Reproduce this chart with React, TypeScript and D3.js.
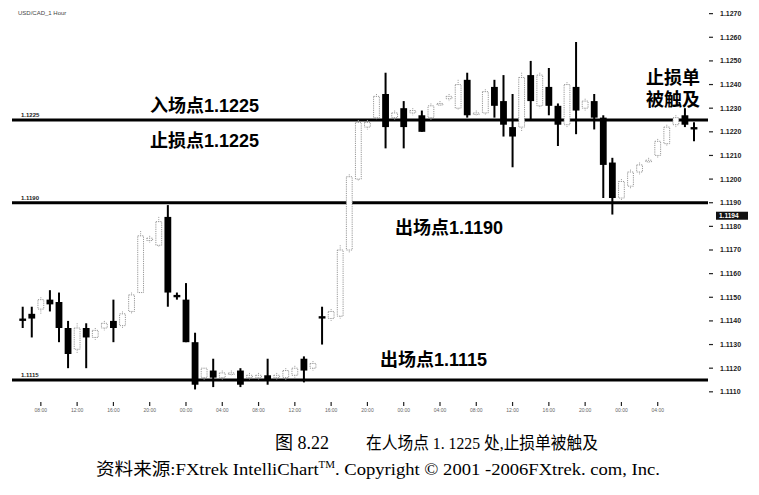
import React, { useEffect } from "react";
import * as d3 from "d3";

// hourly candles
const opens = [
  1.1141, 1.1143, 1.1145, 1.1149, 1.1148, 1.1137, 1.1128, 1.1137, 1.1133, 1.1137,
  1.114, 1.1138, 1.1144, 1.1152, 1.1174, 1.1172, 1.1184, 1.1151, 1.1149, 1.1131,
  1.1116, 1.1119, 1.1116, 1.1118, 1.1119, 1.1116, 1.1116, 1.1117, 1.1116, 1.1116,
  1.1117, 1.1124, 1.112, 1.1142, 1.1141, 1.1142, 1.117, 1.12, 1.1222, 1.1226,
  1.1236, 1.1226, 1.123, 1.1228, 1.1227, 1.1226, 1.1232, 1.1234, 1.123, 1.1242,
  1.1228, 1.1228, 1.1239, 1.1233, 1.1222, 1.1222, 1.1244, 1.1231, 1.1239, 1.1231,
  1.1223, 1.1239, 1.123, 1.1233, 1.1226, 1.1207, 1.1192, 1.1197, 1.1203, 1.1208,
  1.121, 1.1215, 1.1223, 1.1227, 1.1222,
];
const highs = [
  1.1146, 1.1146, 1.115, 1.1153, 1.1152, 1.114, 1.1139, 1.1139, 1.1137, 1.114,
  1.1149, 1.1144, 1.1152, 1.1178, 1.1176, 1.1184, 1.1189, 1.1152, 1.1156, 1.1135,
  1.112, 1.1124, 1.1119, 1.1119, 1.112, 1.1118, 1.1118, 1.1124, 1.1118, 1.112,
  1.1121, 1.1125, 1.1123, 1.1146, 1.1145, 1.1172, 1.1202, 1.1225, 1.1225, 1.1236,
  1.1245, 1.1229, 1.1233, 1.123, 1.1229, 1.1232, 1.1233, 1.1236, 1.1242, 1.1245,
  1.1229, 1.1238, 1.1242, 1.1244, 1.1236, 1.1245, 1.125, 1.1245, 1.1247, 1.1232,
  1.1241, 1.1258, 1.1234, 1.1236, 1.1227, 1.1209, 1.12, 1.1204, 1.1207, 1.1209,
  1.1217, 1.1223, 1.1227, 1.123, 1.1224,
];
const lows = [
  1.1137, 1.1133, 1.1143, 1.1144, 1.1131, 1.112, 1.1126, 1.112, 1.1132, 1.1136,
  1.1131, 1.1137, 1.1143, 1.1152, 1.1173, 1.1171, 1.1146, 1.1149, 1.1131, 1.1111,
  1.1115, 1.1112, 1.1115, 1.1117, 1.1112, 1.1115, 1.1115, 1.1113, 1.1115, 1.1115,
  1.1116, 1.1114, 1.1119, 1.113, 1.114, 1.1141, 1.1169, 1.1199, 1.1221, 1.1225,
  1.1213, 1.1225, 1.1213, 1.1227, 1.122, 1.1225, 1.1231, 1.1233, 1.1229, 1.1226,
  1.1227, 1.1227, 1.1226, 1.1218, 1.1205, 1.122, 1.1225, 1.123, 1.1227, 1.1214,
  1.1222, 1.1219, 1.1229, 1.1221, 1.1192, 1.1185, 1.1191, 1.1196, 1.1202, 1.1207,
  1.1209, 1.1214, 1.1222, 1.1222, 1.1216,
];
const closes = [
  1.114, 1.1141, 1.1149, 1.1147, 1.1137, 1.1126, 1.1137, 1.1133, 1.1136, 1.1139,
  1.1137, 1.1143, 1.1151, 1.1176, 1.1175, 1.1182, 1.1152, 1.115, 1.1131, 1.1113,
  1.112, 1.1116, 1.1118, 1.1118, 1.1113, 1.1117, 1.1117, 1.1115, 1.1117, 1.1119,
  1.112, 1.1119, 1.1122, 1.1141, 1.1144, 1.117, 1.1201, 1.1224, 1.1224, 1.1235,
  1.1222, 1.1228, 1.1222, 1.1229, 1.122, 1.1231, 1.1232, 1.1235, 1.124, 1.1227,
  1.1228, 1.1237, 1.1231, 1.1223, 1.1218, 1.1243, 1.1233, 1.1244, 1.1231, 1.1223,
  1.124, 1.1229, 1.1233, 1.1226, 1.1206, 1.1192, 1.1199, 1.1203, 1.1206, 1.1208,
  1.1216, 1.1222, 1.1226, 1.1223, 1.1221,
];

const timeLabels = [
  "08:00", "12:00", "16:00", "20:00", "00:00", "04:00", "08:00", "12:00", "16:00",
  "20:00", "00:00", "04:00", "08:00", "12:00", "16:00", "20:00", "00:00", "04:00",
];
const priceTicks = d3.range(0, 17).map((i) => +(1.111 + i * 0.001).toFixed(4));

// horizontal levels
const entryLevel = 1.1225;
const exit1 = 1.119;
const exit2 = 1.1115;
const lastPrice = "1.1194";

const W = 759;
const H = 495;

const x = d3.scaleLinear().domain([0, opens.length - 1]).range([22.7, 694]);
const y = d3.scaleLinear().domain([exit2, entryLevel]).range([380, 120]);

const bodyW = 6.8;
const labelFont = "'Liberation Sans', 'Noto Sans CJK SC', sans-serif";
const serifFont = "'Liberation Serif', 'Noto Sans CJK SC', serif";

export default function App() {
  useEffect(() => {
    document.body.style.margin = "0";
  }, []);

  const candles = opens.map((o, i) => ({
    o,
    h: highs[i],
    l: lows[i],
    c: closes[i],
    up: closes[i] >= o,
  }));

  return (
    <svg width={W} height={H} style={{ display: "block", background: "#fff" }}>
      <rect width={W} height={H} fill="#fff" />

      <text x={18} y={15} fontSize={6} fontFamily={labelFont} fill="#444">
        USD/CAD_1 Hour
      </text>

      {/* right price axis */}
      {priceTicks.map((p) => (
        <g key={p} transform={`translate(0,${y(p)})`}>
          <line x1={709} x2={713} stroke="#222" strokeWidth={1.2} />
          <text
            x={720}
            dy="0.35em"
            fontSize={7}
            fontWeight="bold"
            fontFamily={labelFont}
            fill="#222"
          >
            {p.toFixed(4)}
          </text>
        </g>
      ))}
      <g transform={`translate(716,${y(exit1) + 13})`}>
        <rect x={0} y={-4} width={32} height={8} fill="#111" />
        <text x={3} dy="0.35em" fontSize={6.5} fontWeight="bold" fontFamily={labelFont} fill="#fff">
          {lastPrice}
        </text>
      </g>

      {/* bottom time axis */}
      {timeLabels.map((t, k) => {
        const xi = x(2 + k * 4);
        return (
          <g key={k} transform={`translate(${xi},0)`}>
            <line y1={402} y2={406} stroke="#222" strokeWidth={1.2} />
            <text y={412} textAnchor="middle" fontSize={5} fontFamily={labelFont} fill="#666">
              {t}
            </text>
          </g>
        );
      })}

      {/* level lines */}
      {[entryLevel, exit1, exit2].map((lv) => (
        <g key={lv}>
          <line x1={12} x2={708} y1={y(lv)} y2={y(lv)} stroke="#000" strokeWidth={3} />
          <text
            x={21}
            y={y(lv) - 3}
            fontSize={6}
            fontWeight="bold"
            fontFamily={labelFont}
            fill="#222"
          >
            {lv.toFixed(4)}
          </text>
        </g>
      ))}

      {/* candles */}
      {candles.map((d, i) => {
        const cx = x(i);
        const top = y(Math.max(d.o, d.c));
        const bot = y(Math.min(d.o, d.c));
        const bh = Math.max(bot - top, 1.6);
        if (d.up) {
          return (
            <g key={i}>
              <line
                x1={cx}
                x2={cx}
                y1={y(d.h)}
                y2={y(d.l)}
                stroke="#9a9a9a"
                strokeWidth={1}
                strokeDasharray="1 1.2"
              />
              <rect
                x={cx - bodyW / 2 + 0.5}
                y={top}
                width={bodyW - 1}
                height={bh}
                fill="#fff"
                stroke="#8c8c8c"
                strokeWidth={0.9}
                strokeDasharray="1.2 1"
              />
            </g>
          );
        }
        return (
          <g key={i}>
            <line x1={cx} x2={cx} y1={y(d.h)} y2={y(d.l)} stroke="#000" strokeWidth={2} />
            <rect x={cx - bodyW / 2} y={top} width={bodyW} height={bh} fill="#000" />
          </g>
        );
      })}

      {/* annotations */}
      <g fontFamily={labelFont} fontWeight="bold" fontSize={18} fill="#000">
        <text x={150} y={112}>入场点1.1225</text>
        <text x={150} y={147}>止损点1.1225</text>
        <text x={395} y={234}>出场点1.1190</text>
        <text x={380} y={366}>出场点1.1115</text>
        <text x={646} y={84}>止损单</text>
        <text x={646} y={106}>被触及</text>
      </g>

      {/* caption */}
      <g fontFamily={serifFont} fill="#000">
        <text x={275} y={449} fontSize={18}>
          图 8.22
        </text>
        <text x={366} y={449} fontSize={17} textLength={232} lengthAdjust="spacingAndGlyphs">
          在人场点 1. 1225 处,止损单被触及
        </text>
        <text x={96} y={475} fontSize={17} textLength={564} lengthAdjust="spacingAndGlyphs">
          资料来源:FXtrek IntelliChart
          <tspan fontSize={10} dy={-7}>TM</tspan>
          <tspan dy={7}>. Copyright © 2001 -2006FXtrek. com, Inc.</tspan>
        </text>
      </g>
    </svg>
  );
}
